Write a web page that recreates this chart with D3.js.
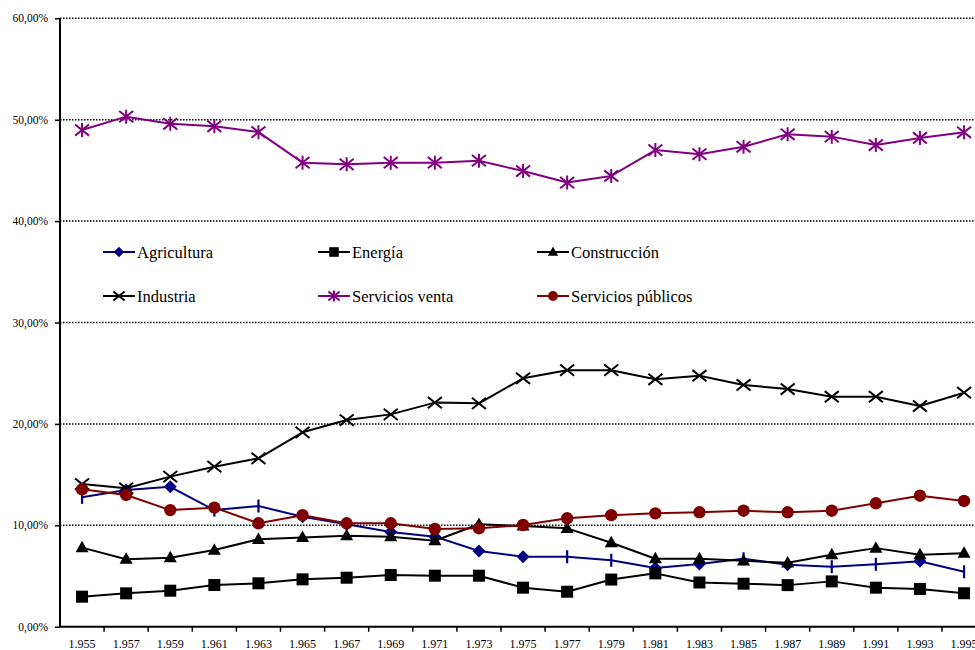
<!DOCTYPE html>
<html>
<head>
<meta charset="utf-8">
<script src="https://cdn.jsdelivr.net/npm/d3@7"></script>
<style>
  body { margin: 0; background: #fff; }
  svg { display: block; }
  text { font-family: "Times New Roman", "Liberation Serif", serif; fill: #000; }
</style>
</head>
<body>
<svg id="chart" width="975" height="650"></svg>
<script>
// Share of each sector (%), 1955-1995 every two years
const years = [1955, 1957, 1959, 1961, 1963, 1965, 1967, 1969, 1971, 1973, 1975,
               1977, 1979, 1981, 1983, 1985, 1987, 1989, 1991, 1993, 1995];
const agricultura = [12.76, 13.48, 13.8, 11.5, 11.9, 10.85, 10.1, 9.35, 8.88, 7.46, 6.9,
                     6.9, 6.55, 5.78, 6.18, 6.7, 6.1, 5.92, 6.15, 6.45, 5.42];
const energia = [2.96, 3.29, 3.55, 4.11, 4.28, 4.67, 4.83, 5.1, 5.03, 5.03, 3.85,
                 3.45, 4.65, 5.26, 4.36, 4.24, 4.1, 4.47, 3.85, 3.72, 3.3];
const construccion = [7.8, 6.65, 6.8, 7.56, 8.62, 8.8, 8.97, 8.88, 8.48, 10.1, 9.93,
                      9.7, 8.28, 6.7, 6.7, 6.5, 6.3, 7.1, 7.75, 7.1, 7.25];
const industria = [14.07, 13.65, 14.8, 15.78, 16.6, 19.17, 20.38, 20.94, 22.1, 22.03, 24.5,
                   25.3, 25.3, 24.4, 24.75, 23.84, 23.44, 22.68, 22.68, 21.76, 23.08];
const serviciosVenta = [48.98, 50.3, 49.6, 49.35, 48.77, 45.76, 45.6, 45.76, 45.76, 45.96, 44.94,
                        43.8, 44.45, 47.0, 46.6, 47.33, 48.56, 48.33, 47.5, 48.2, 48.76];
const serviciosPublicos = [13.55, 12.99, 11.5, 11.74, 10.2, 11.0, 10.2, 10.2, 9.63, 9.7, 10.03,
                           10.69, 11.0, 11.18, 11.28, 11.44, 11.28, 11.44, 12.17, 12.92, 12.4];
const yTicks = [0, 10, 20, 30, 40, 50, 60];

// Years where the Agricultura point shows as a short vertical bar instead of a diamond
const agriBarYears = [1955, 1961, 1963, 1977, 1979, 1985, 1989, 1991, 1995];

const series = [
  { name: "Agricultura",        values: agricultura,       color: "#000080", marker: "diamond" },
  { name: "Energía",            values: energia,           color: "#000000", marker: "square" },
  { name: "Construcción",       values: construccion,      color: "#000000", marker: "triangle" },
  { name: "Industria",          values: industria,         color: "#000000", marker: "cross" },
  { name: "Servicios venta",    values: serviciosVenta,    color: "#800080", marker: "star" },
  { name: "Servicios públicos", values: serviciosPublicos, color: "#800000", marker: "circle" }
];

const svg = d3.select("#chart");
const plotLeft = 60, plotTop = 18.3, plotBottom = 626.7, plotRight = 986.1;
const serif = "'Times New Roman', 'Liberation Serif', serif";

const x = d3.scaleBand().domain(years).range([plotLeft, plotRight]);
const cx = d => x(d) + x.bandwidth() / 2;
const y = d3.scaleLinear().domain([0, 60]).range([plotBottom, plotTop]);

const es = d3.formatLocale({ decimal: ",", thousands: ".", grouping: [3], currency: ["", ""] });
const pct = es.format(".2f");
const yearFmt = es.format(",d");

// dotted gridlines
svg.append("g")
  .selectAll("line")
  .data(yTicks.filter(t => t > 0))
  .join("line")
  .attr("x1", plotLeft).attr("x2", 975)
  .attr("y1", d => y(d)).attr("y2", d => y(d))
  .attr("stroke", "#000").attr("stroke-width", 1.5)
  .attr("stroke-dasharray", "1.5 1.5");

// y axis
const yAxis = svg.append("g")
  .attr("transform", `translate(${plotLeft},0)`)
  .call(d3.axisLeft(y).tickValues(yTicks).tickSize(5).tickPadding(7)
    .tickFormat(d => pct(d) + "%"));
yAxis.attr("font-family", serif);
yAxis.select(".domain").attr("stroke-width", 2).attr("d", `M0,${plotTop}V${plotBottom}`);
yAxis.selectAll(".tick line").attr("stroke-width", 1.5);
yAxis.selectAll(".tick text").attr("font-size", 11.5)
  .attr("font-family", serif).attr("fill", "#222");

// x axis: labels centred in each category, ticks on the category edges
const xAxis = svg.append("g")
  .attr("transform", `translate(0,${plotBottom})`)
  .call(d3.axisBottom(x).tickSize(0).tickPadding(13).tickFormat(d => yearFmt(d)));
xAxis.attr("font-family", serif);
xAxis.select(".domain").attr("stroke-width", 2).attr("d", `M${plotLeft - 1},0H${plotRight}`);
xAxis.selectAll(".tick text").attr("font-size", 12)
  .attr("font-family", serif).attr("fill", "#222");
xAxis.selectAll(".edge")
  .data(years.slice(1).concat([null]))
  .join("line")
  .attr("class", "edge")
  .attr("x1", d => d === null ? plotRight : x(d))
  .attr("x2", d => d === null ? plotRight : x(d))
  .attr("y1", 0).attr("y2", 5)
  .attr("stroke", "#000").attr("stroke-width", 1.5);

// marker drawing
function drawMarker(g, type, color, px, py, s) {
  const k = s || 1;
  if (type === "diamond") {
    const r = 6.5 * k;
    g.append("path").attr("d", `M${px},${py - r}L${px + r},${py}L${px},${py + r}L${px - r},${py}Z`)
      .attr("fill", color);
  } else if (type === "bar") {
    g.append("line").attr("x1", px).attr("x2", px).attr("y1", py - 6.5).attr("y2", py + 6.5)
      .attr("stroke", color).attr("stroke-width", 2.2);
  } else if (type === "square") {
    const r = 6 * k;
    g.append("rect").attr("x", px - r).attr("y", py - r).attr("width", 2 * r).attr("height", 2 * r)
      .attr("fill", color);
  } else if (type === "triangle") {
    const w = 6.5 * k, h = 11.5 * k;
    g.append("path").attr("d", `M${px},${py - h * 0.6}L${px + w},${py + h * 0.4}L${px - w},${py + h * 0.4}Z`)
      .attr("fill", color);
  } else if (type === "cross" || type === "star") {
    const r = 7 * k;
    g.append("path")
      .attr("d", `M${px - r},${py - r * 0.8}L${px + r},${py + r * 0.8}M${px - r},${py + r * 0.8}L${px + r},${py - r * 0.8}` +
        (type === "star" ? `M${px},${py - r}V${py + r}` : ""))
      .attr("stroke", color).attr("stroke-width", 2).attr("fill", "none");
  } else if (type === "circle") {
    g.append("circle").attr("cx", px).attr("cy", py).attr("r", 6.2 * k).attr("fill", color);
  }
}

const line = d3.line().x((d, i) => cx(years[i])).y(d => y(d));

series.forEach(s => {
  const g = svg.append("g");
  g.append("path").datum(s.values).attr("d", line)
    .attr("fill", "none").attr("stroke", s.color).attr("stroke-width", 2)
    .attr("stroke-linejoin", "round");
  s.values.forEach((v, i) => {
    let type = s.marker;
    if (s.name === "Agricultura" && agriBarYears.includes(years[i])) type = "bar";
    drawMarker(g, type, s.color, cx(years[i]), y(v));
  });
});

// legend, 3 columns x 2 rows
const legendCols = [103, 318, 537];
const legendRows = [252, 296];
const legend = svg.append("g");
series.forEach((s, i) => {
  const lx = legendCols[i % 3], ly = legendRows[Math.floor(i / 3)];
  const g = legend.append("g");
  g.append("line").attr("x1", lx).attr("x2", lx + 32).attr("y1", ly).attr("y2", ly)
    .attr("stroke", s.color).attr("stroke-width", 2);
  drawMarker(g, s.marker, s.color, lx + 16, ly, 0.8);
  g.append("text").attr("x", lx + 34).attr("y", ly + 5.5)
    .attr("font-family", serif).attr("font-size", 16.5).text(s.name);
});
</script>
</body>
</html>
